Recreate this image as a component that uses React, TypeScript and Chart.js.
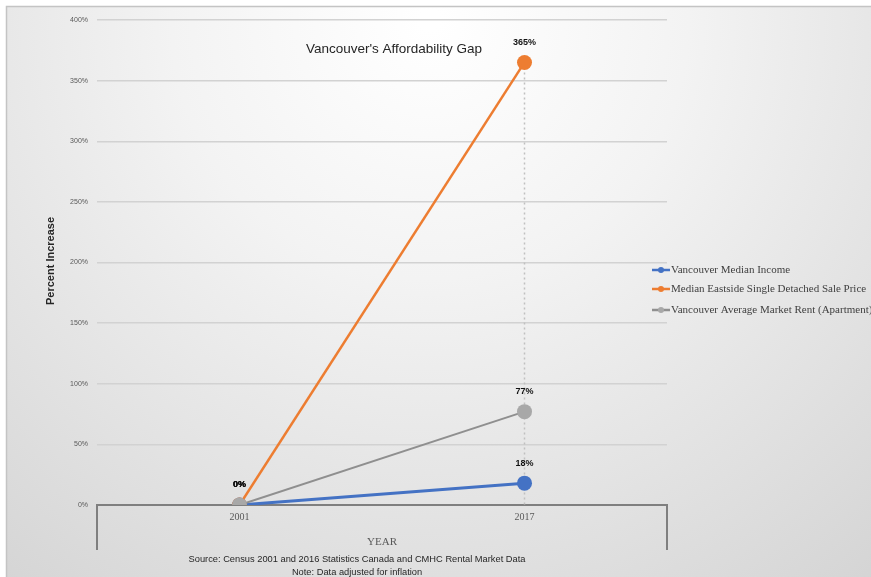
import React, { useEffect, useRef } from "react";
import { Chart, registerables } from "chart.js";

Chart.register(...registerables);

const years = ["2001", "2017"];
const seriesNames = [
  "Vancouver Median Income",
  "Median Eastside Single Detached Sale Price",
  "Vancouver Average Market Rent (Apartment)",
];
const medianIncome = [0, 18];
const detachedPrice = [0, 365];
const marketRent = [0, 77];
const yTicks = [0, 50, 100, 150, 200, 250, 300, 350, 400];
const chartTitle = "Vancouver's Affordability Gap";
const yTitle = "Percent Increase";
const xTitle = "YEAR";
const sourceNote = "Source: Census 2001 and 2016 Statistics Canada and CMHC Rental Market Data";
const dataNote = "Note: Data adjusted for inflation";

const lineColors = ["#4472C4", "#ED7D31", "#8f8f8f"];
const markerColors = ["#4472C4", "#ED7D31", "#a8a8a8"];

const decorPlugin = {
  id: "decor",
  beforeDraw(chart: any) {
    const { ctx, width, height } = chart;
    ctx.save();
    ctx.fillStyle = "#ffffff";
    ctx.fillRect(0, 0, width, height);
    const g = ctx.createRadialGradient(430, 20, 10, 430, 20, 720);
    g.addColorStop(0, "#ffffff");
    g.addColorStop(0.35, "#f3f3f3");
    g.addColorStop(1, "#d4d4d4");
    ctx.fillStyle = g;
    ctx.fillRect(6, 6, width - 6, height - 6);
    ctx.strokeStyle = "#c4c4c4";
    ctx.lineWidth = 1.5;
    ctx.beginPath();
    ctx.moveTo(6.5, height);
    ctx.lineTo(6.5, 6.5);
    ctx.lineTo(width, 6.5);
    ctx.stroke();
    ctx.restore();
  },
  beforeDatasetsDraw(chart: any) {
    const { ctx, scales } = chart;
    const x = scales.x;
    const y = scales.y;
    ctx.save();
    ctx.strokeStyle = "#c0c0c0";
    ctx.lineWidth = 1.5;
    ctx.setLineDash([2, 3]);
    years.forEach((_, i) => {
      const vals = chart.data.datasets.map((d: any) => d.data[i]);
      const mx = Math.max(...vals);
      const mn = Math.min(0, ...vals);
      if (mx - mn <= 0) return;
      const px = x.getPixelForValue(i);
      ctx.beginPath();
      ctx.moveTo(px, y.getPixelForValue(mx));
      ctx.lineTo(px, y.getPixelForValue(mn));
      ctx.stroke();
    });
    ctx.restore();
  },
  afterDraw(chart: any) {
    const { ctx, scales, chartArea } = chart;
    const x = scales.x;
    const y = scales.y;
    ctx.save();
    // axis label box
    ctx.strokeStyle = "#7f7f7f";
    ctx.lineWidth = 2;
    ctx.beginPath();
    ctx.moveTo(chartArea.left, chartArea.bottom);
    ctx.lineTo(chartArea.left, chartArea.bottom + 45);
    ctx.moveTo(chartArea.right, chartArea.bottom);
    ctx.lineTo(chartArea.right, chartArea.bottom + 45);
    ctx.stroke();

    // data labels
    ctx.fillStyle = "#111111";
    ctx.font = 'bold 9px "Liberation Sans", Arial, sans-serif';
    ctx.textAlign = "center";
    ctx.textBaseline = "middle";
    chart.data.datasets.forEach((d: any) => {
      d.data.forEach((v: number, i: number) => {
        const px = x.getPixelForValue(i);
        const py = y.getPixelForValue(v);
        ctx.fillText(Math.round(v) + "%", px, py - 20);
      });
    });

    // title
    ctx.fillStyle = "#262626";
    ctx.font = '13.5px "Liberation Sans", Arial, sans-serif';
    ctx.fillText(chartTitle, 394, 49);

    // x title
    ctx.fillStyle = "#595959";
    ctx.font = '11px "Liberation Serif", "Times New Roman", serif';
    ctx.fillText(xTitle, (chartArea.left + chartArea.right) / 2, 542);

    // source
    ctx.fillStyle = "#262626";
    ctx.font = '9.3px "Liberation Sans", Arial, sans-serif';
    ctx.fillText(sourceNote, 357, 559);
    ctx.fillText(dataNote, 357, 572);

    // y title
    ctx.save();
    ctx.translate(51, 261);
    ctx.rotate(-Math.PI / 2);
    ctx.font = 'bold 11px "Liberation Sans", Arial, sans-serif';
    ctx.fillStyle = "#262626";
    ctx.fillText(yTitle, 0, 0);
    ctx.restore();

    // legend
    const legendY = [270, 289, 310];
    ctx.textAlign = "left";
    ctx.font = '11px "Liberation Serif", "Times New Roman", serif';
    seriesNames.forEach((name, i) => {
      const ly = legendY[i];
      ctx.strokeStyle = lineColors[i];
      ctx.lineWidth = 2.5;
      ctx.beginPath();
      ctx.moveTo(652, ly);
      ctx.lineTo(670, ly);
      ctx.stroke();
      ctx.fillStyle = markerColors[i];
      ctx.beginPath();
      ctx.arc(661, ly, 3, 0, Math.PI * 2);
      ctx.fill();
      ctx.fillStyle = "#404040";
      ctx.fillText(name, 671, ly);
    });
    ctx.restore();
  },
};

export default function App() {
  const ref = useRef<HTMLCanvasElement>(null);
  useEffect(() => {
    if (!ref.current) return;
    const series = [medianIncome, detachedPrice, marketRent];
    const orders = [2, 1, 0];
    const widths = [3, 2.5, 2];
    const chart = new Chart(ref.current, {
      type: "line",
      data: {
        labels: years,
        datasets: series.map((s, i) => ({
          label: seriesNames[i],
          data: s,
          borderColor: lineColors[i],
          backgroundColor: markerColors[i],
          pointBackgroundColor: markerColors[i],
          pointBorderColor: markerColors[i],
          pointRadius: 7.5,
          pointBorderWidth: 0,
          borderWidth: widths[i],
          order: orders[i],
          tension: 0,
        })),
      },
      options: {
        responsive: false,
        animation: false,
        devicePixelRatio: 1,
        layout: { padding: { left: 0, top: 20, right: 204, bottom: 0 } },
        plugins: {
          legend: { display: false },
          title: { display: false },
          tooltip: { enabled: false },
        },
        scales: {
          x: {
            type: "category",
            offset: true,
            grid: { display: false, drawTicks: false },
            border: { display: true, color: "#7f7f7f", width: 2 },
            ticks: {
              color: "#595959",
              font: { family: '"Liberation Serif", "Times New Roman", serif', size: 10 },
              padding: 6,
              maxRotation: 0,
            },
            afterFit: (scale: any) => {
              scale.height = 72;
            },
          },
          y: {
            min: 0,
            max: 400,
            afterBuildTicks: (scale: any) => {
              scale.ticks = yTicks.map((v) => ({ value: v }));
            },
            ticks: {
              color: "#595959",
              font: { family: '"Liberation Sans", Arial, sans-serif', size: 7 },
              padding: 9,
              callback: (v: any) => v + "%",
            },
            grid: { color: "#d2d2d2", lineWidth: 1.5, drawTicks: false },
            border: { display: false },
            afterFit: (scale: any) => {
              scale.width = 97;
            },
          },
        },
      },
      plugins: [decorPlugin],
    });
    return () => chart.destroy();
  }, []);
  return (
    <div style={{ position: "fixed", left: 0, top: 0, width: 871, height: 577 }}>
      <canvas ref={ref} width={871} height={577} style={{ width: 871, height: 577, display: "block" }} />
    </div>
  );
}
